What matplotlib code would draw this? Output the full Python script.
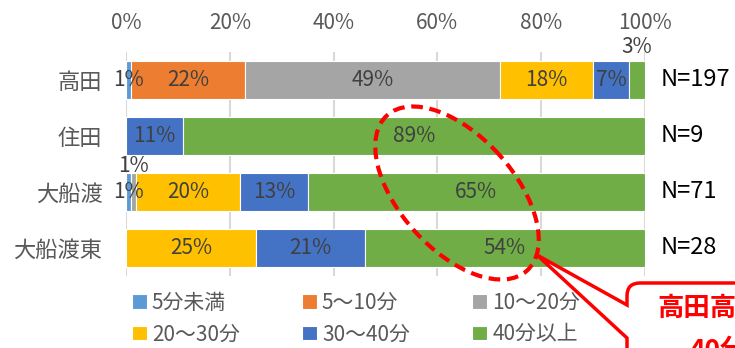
import numpy as np
import matplotlib.pyplot as plt
from matplotlib.patches import Ellipse, PathPatch
from matplotlib.path import Path
from matplotlib.transforms import IdentityTransform

plt.rcParams['font.family'] = ['Noto Sans CJK JP', 'DejaVu Sans']

# 学校別・通学時間の割合 (%)
categories = ['高田', '住田', '大船渡', '大船渡東']
series_names = ['5分未満', '5～10分', '10～20分', '20～30分', '30～40分', '40分以上']
under_5 = [1, 0, 1, 0]
min_5_10 = [22, 0, 0, 0]
min_10_20 = [49, 0, 1, 0]
min_20_30 = [18, 0, 20, 25]
min_30_40 = [7, 11, 13, 21]
over_40 = [3, 89, 65, 54]
n_counts = [197, 9, 71, 28]

series = [under_5, min_5_10, min_10_20, min_20_30, min_30_40, over_40]
colors = ['#5B9BD5', '#ED7D31', '#A5A5A5', '#FFC000', '#4472C4', '#70AD47']

# 小さい値のラベルはバーの上にずらす (系列番号, 学校番号) -> y方向のずれ
label_shift = {(5, 0): -0.59, (2, 2): -0.46}

W, H = 735, 348
fig = plt.figure(figsize=(W / 100, H / 100), dpi=100)
ax = fig.add_axes([126 / W, 1 - 276 / H, 519 / W, 224 / H])

y = np.arange(len(categories))
left = np.zeros(len(categories))
bars = []
for i, (vals, col) in enumerate(zip(series, colors)):
    vals = np.array(vals, dtype=float)
    b = ax.barh(y, vals, left=left, height=0.68, color=col,
                edgecolor='white', linewidth=0.8, label=series_names[i])
    bars.append(b)
    for j, v in enumerate(vals):
        if v <= 0:
            continue
        ax.text(left[j] + v / 2, y[j] + label_shift.get((i, j), 0), f'{v:.0f}%',
                ha='center', va='center', fontsize=15, color='#404040')
    left += vals

for j, n in enumerate(n_counts):
    ax.text(103.0, y[j], f'N={n}', ha='left', va='center', fontsize=17,
            color='black', clip_on=False)

ax.set_xlim(0, 100)
ax.set_ylim(len(categories) - 0.5, -0.5)
ax.set_xticks(range(0, 101, 20))
ax.set_xticklabels([f'{v}%' for v in range(0, 101, 20)])
ax.set_yticks(y)
ax.set_yticklabels(categories)
ax.xaxis.tick_top()
ax.tick_params(axis='x', length=0, pad=13, labelsize=15, labelcolor='#595959')
ax.tick_params(axis='y', length=0, pad=17, labelsize=16, labelcolor='#595959')
ax.grid(axis='x', color='#d9d9d9', linewidth=1.5)
ax.set_axisbelow(True)
for s in ax.spines.values():
    s.set_visible(False)

# 凡例は行ごとに並べる
order = [0, 3, 1, 4, 2, 5]
ax.legend([bars[k] for k in order], [series_names[k] for k in order],
          ncol=3, loc='upper left', bbox_to_anchor=(132 / W, 1 - 292 / H),
          bbox_transform=fig.transFigure, frameon=False, fontsize=15,
          labelcolor='#595959', handlelength=0.7, handleheight=0.7,
          handletextpad=0.25, columnspacing=3.0, borderpad=0, borderaxespad=0,
          labelspacing=0.45)

# 注目部分を囲む破線の楕円
ell = Ellipse((457, H - 193), 209, 114, angle=132, fill=False, edgecolor='red',
              linewidth=3, linestyle=(0, (2.8, 1.6)), transform=IdentityTransform(),
              zorder=10)
fig.add_artist(ell)

# 吹き出し
pts = [(745, 283), (640, 283), (627, 283), (627, 296), (627, 305),
       (537, 255), (627, 338), (627, 360)]
codes = [Path.MOVETO, Path.LINETO, Path.CURVE3, Path.CURVE3, Path.LINETO,
         Path.LINETO, Path.LINETO, Path.LINETO]
callout = PathPatch(Path([(px, H - py) for px, py in pts], codes),
                    facecolor='white', edgecolor='red', linewidth=2.5,
                    transform=IdentityTransform(), zorder=11)
fig.add_artist(callout)
fig.text(657 / W, 1 - 308 / H, '高田高校は', color='red', fontsize=19,
         fontweight='bold', ha='left', va='center', zorder=12)
fig.text(690 / W, 1 - 350 / H, '40分以上', color='red', fontsize=19,
         fontweight='bold', ha='left', va='center', zorder=12)

fig.savefig('out.png', dpi=100)
